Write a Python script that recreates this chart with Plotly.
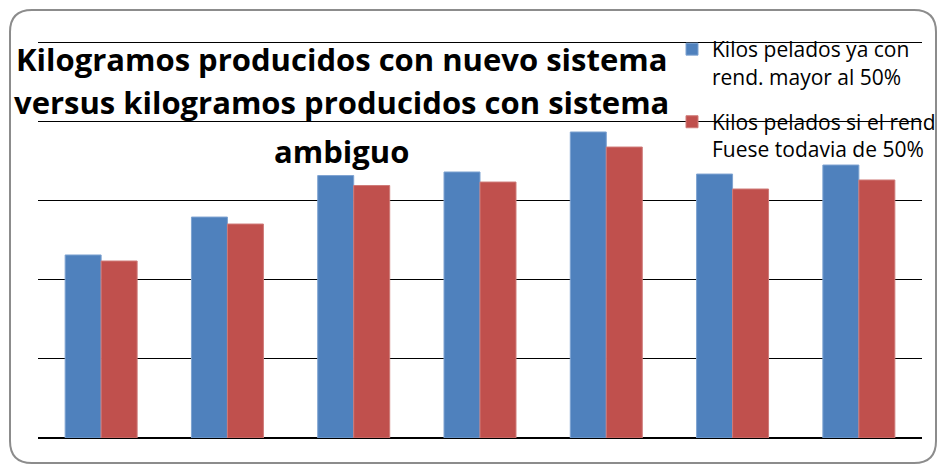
import plotly.graph_objects as go

# ---- data ----
categories = ["1", "2", "3", "4", "5", "6", "7"]
kilos_nuevo = [2311, 2790, 3314, 3359, 3864, 3333, 3447]
kilos_50 = [2235, 2702, 3188, 3232, 3674, 3144, 3258]
series_names = ["Kilos pelados ya con<br>rend. mayor al 50%",
                "Kilos pelados si el rend<br>Fuese todavia de 50%"]
title_lines = ["Kilogramos producidos con nuevo sistema",
               "versus kilogramos producidos con sistema",
               "ambiguo"]

W, H = 938, 464
ML, MR, MT, MB = 38, 16, 41, 26
PW, PH = W - ML - MR, H - MT - MB


def px(x):
    return (x - ML) / PW


def py(y):
    return (H - MB - y) / PH


fig = go.Figure()
fig.add_trace(go.Bar(x=categories, y=kilos_nuevo, name=series_names[0],
                     marker=dict(color="#4F81BD", line=dict(color="#7EA3D1", width=1)),
                     legendgroup="a"))
fig.add_trace(go.Bar(x=categories, y=kilos_50, name=series_names[1],
                     marker=dict(color="#C0504D", line=dict(color="#CF7A78", width=1)),
                     legendgroup="b"))

annotations = []
title_y = [59, 102, 151]
for t, yy in zip(title_lines, title_y):
    annotations.append(dict(text="<b>" + t + "</b>", x=px(341), y=py(yy),
                            xref="paper", yref="paper", xanchor="center", yanchor="middle",
                            showarrow=False,
                            font=dict(family="Open Sans", size=31, color="#000000")))

# rounded chart border
L, T, R, B, rad = 10, 10, 936, 463, 22
rx, ry = rad / PW, rad / PH
x0, x1, y0, y1 = px(L), px(R), py(B), py(T)
path = (f"M {x0+rx},{y1} L {x1-rx},{y1} Q {x1},{y1} {x1},{y1-ry} "
        f"L {x1},{y0+ry} Q {x1},{y0} {x1-rx},{y0} L {x0+rx},{y0} "
        f"Q {x0},{y0} {x0},{y0+ry} L {x0},{y1-ry} Q {x0},{y1} {x0+rx},{y1} Z")

fig.update_layout(
    width=W, height=H,
    margin=dict(l=ML, r=MR, t=MT, b=MB, autoexpand=False),
    paper_bgcolor="white", plot_bgcolor="rgba(0,0,0,0)",
    barmode="group", bargap=0.43, bargroupgap=0,
    font=dict(family="Open Sans", color="#000000"),
    annotations=annotations,
    shapes=[dict(type="path", path=path, xref="paper", yref="paper",
                 line=dict(color="#8C8C8C", width=2), layer="below")],
    legend=dict(x=px(672), y=py(29), xanchor="left", yanchor="top",
                bgcolor="rgba(0,0,0,0)", font=dict(family="Open Sans", size=21, color="#000000"),
                traceorder="grouped", tracegroupgap=15, valign="top", itemwidth=30),
    showlegend=True,
)
fig.update_xaxes(showticklabels=False, showgrid=False, ticks="", showline=False)
fig.update_yaxes(range=[0, 5013], tickvals=[1000, 2000, 3000, 4000, 5000],
                 showticklabels=False, ticks="",
                 showgrid=True, gridcolor="#000000", gridwidth=1,
                 zeroline=True, zerolinecolor="#000000", zerolinewidth=2, showline=False)

fig.write_html("out.html")
